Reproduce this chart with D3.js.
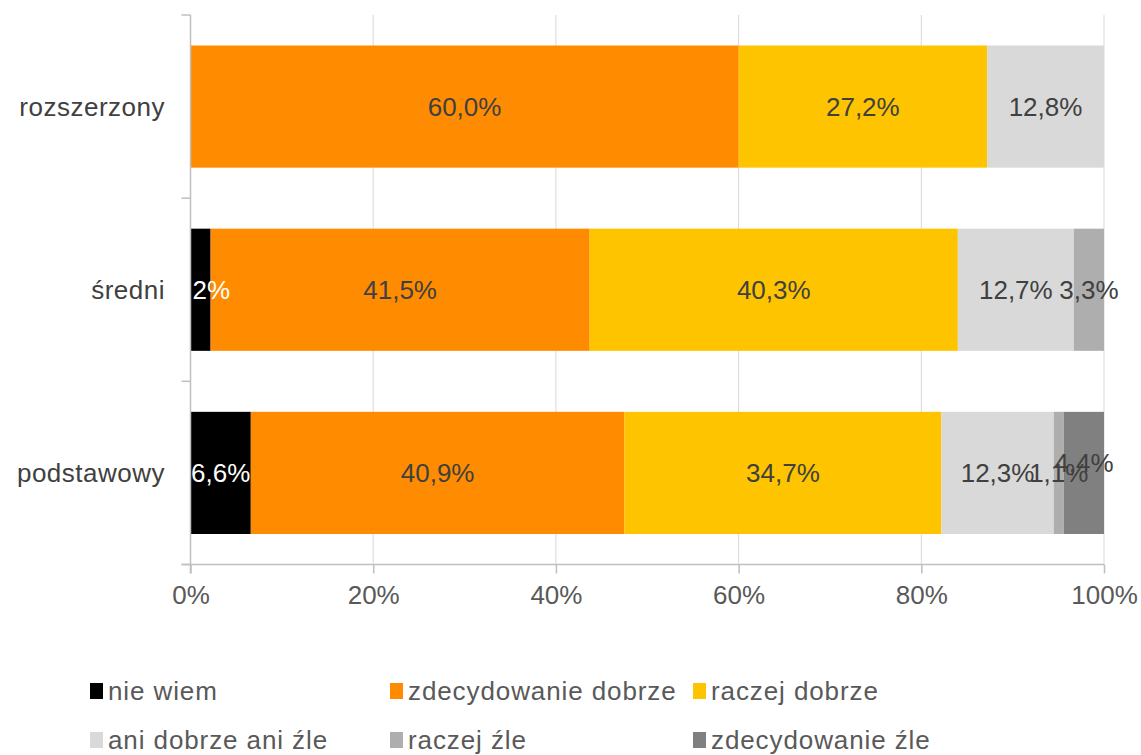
<!DOCTYPE html>
<html>
<head>
<meta charset="utf-8">
<script src="https://cdn.jsdelivr.net/npm/d3@7"></script>
<style>
  body { margin: 0; background: #fff; }
  text { font-family: "Liberation Sans", Arial, sans-serif; }
</style>
</head>
<body>
<svg id="chart" width="1141" height="755"></svg>
<script>
/* stacked 100% bar chart */
const categories = ["rozszerzony", "średni", "podstawowy"];
const seriesNames = ["nie wiem", "zdecydowanie dobrze", "raczej dobrze",
    "ani dobrze ani źle", "raczej źle", "zdecydowanie źle"];
const nieWiem = [0, 2.2, 6.6];
const zdecydowanieDobrze = [60.0, 41.5, 40.9];
const raczejDobrze = [27.2, 40.3, 34.7];
const aniDobrzeAniZle = [12.8, 12.7, 12.3];
const raczejZle = [0, 3.3, 1.1];
const zdecydowanieZle = [0, 0, 4.4];
const tickValues = [0, 20, 40, 60, 80, 100];

const seriesValues = [nieWiem, zdecydowanieDobrze, raczejDobrze,
    aniDobrzeAniZle, raczejZle, zdecydowanieZle];
const colors = ["#000000", "#ff8c00", "#ffc400", "#d9d9d9", "#aeaeae", "#808080"];
const labelColors = ["#ffffff", "#404040", "#404040", "#404040", "#404040", "#404040"];

const svg = d3.select("svg#chart");
const plotLeft = 190.5, plotRight = 1104, plotTop = 15, plotBottom = 564.5;

// rows for d3.stack
const rows = categories.map((c, i) => {
    let row = { category: c };
    seriesNames.forEach((s, j) => (row[s] = seriesValues[j][i]));
    return row;
});
const stacked = d3.stack().keys(seriesNames)(rows);

const x = d3.scaleLinear().domain([0, 100]).range([plotLeft, plotRight]);
const y = d3.scaleBand().domain(categories).range([plotTop, plotBottom]).paddingInner(0.333).paddingOuter(0.1665);

// gridlines
svg.append("g")
    .selectAll("line")
    .data(tickValues.slice(1))
    .join("line")
    .attr("x1", (d) => x(d))
    .attr("x2", (d) => x(d))
    .attr("y1", plotTop)
    .attr("y2", plotBottom)
    .attr("stroke", "#d9d9d9")
    .attr("stroke-width", 1);

// bars
let barArea = svg.append("g");
stacked.forEach((layer, j) => {
    barArea
        .selectAll("rect.s" + j)
        .data(layer)
        .join("rect")
        .attr("class", "s" + j)
        .attr("x", (d) => x(d[0]))
        .attr("width", (d) => x(d[1]) - x(d[0]))
        .attr("y", (d) => y(d.data.category))
        .attr("height", y.bandwidth())
        .attr("fill", colors[j]);
});

// data labels (clipped to plot area)
svg.append("clipPath")
    .attr("id", "plotClip")
    .append("rect")
    .attr("x", plotLeft)
    .attr("y", 0)
    .attr("width", 1141 - plotLeft)
    .attr("height", plotBottom);
let labelArea = svg.append("g").attr("clip-path", "url(#plotClip)");
const fmt = (v) => v.toFixed(1).replace(".", ",") + "%";
stacked.forEach((layer, j) => {
    labelArea
        .selectAll("text.l" + j)
        .data(layer.filter((d) => d[1] - d[0] > 0))
        .join("text")
        .attr("class", "l" + j)
        .attr("x", (d) => x((d[0] + d[1]) / 2))
        .attr("y", (d) => y(d.data.category) + y.bandwidth() / 2 + (j === 5 ? -10 : 0))
        .attr("dy", "0.35em")
        .attr("text-anchor", "middle")
        .attr("fill", labelColors[j])
        .style("font-size", "26px")
        .text((d) => fmt(d[1] - d[0]));
});

// y axis line and category ticks
const axisColor = "#bfbfbf";
svg.append("line")
    .attr("x1", plotLeft).attr("x2", plotLeft)
    .attr("y1", plotTop).attr("y2", plotBottom + 9)
    .attr("stroke", axisColor).attr("stroke-width", 1.5);
const step = (plotBottom - plotTop) / categories.length;
svg.append("g")
    .selectAll("line")
    .data(d3.range(categories.length + 1))
    .join("line")
    .attr("x1", plotLeft - 9).attr("x2", plotLeft)
    .attr("y1", (d) => plotTop + d * step)
    .attr("y2", (d) => plotTop + d * step)
    .attr("stroke", axisColor).attr("stroke-width", 1.5);

// x axis
const xAxis = svg.append("g")
    .attr("transform", `translate(0, ${plotBottom})`)
    .call(d3.axisBottom(x).tickValues(tickValues).tickSize(9).tickPadding(12).tickFormat((d) => d + "%"));
xAxis.select(".domain").remove();
xAxis.append("line")
    .attr("x1", plotLeft - 9).attr("x2", plotRight)
    .attr("stroke", axisColor).attr("stroke-width", 1.5);
xAxis.selectAll(".tick line").attr("stroke", axisColor).attr("stroke-width", 1.5);
xAxis.selectAll(".tick text")
    .attr("fill", "#595959")
    .style("font-size", "26px")
    .style("font-family", "'Liberation Sans', Arial, sans-serif");

// category labels
svg.append("g")
    .selectAll("text")
    .data(categories)
    .join("text")
    .attr("x", 165)
    .attr("y", (d) => y(d) + y.bandwidth() / 2)
    .attr("dy", "0.35em")
    .attr("text-anchor", "end")
    .attr("fill", "#404040")
    .style("font-size", "26px")
    .style("letter-spacing", "0.5px")
    .text((d) => d);

// legend
const legendX = [90, 390, 693];
const legendY = [691, 740];
let legend = svg.append("g");
seriesNames.forEach((name, i) => {
    let lx = legendX[i % 3];
    let ly = legendY[Math.floor(i / 3)];
    legend.append("rect")
        .attr("x", lx)
        .attr("y", ly - 8)
        .attr("width", 13)
        .attr("height", 16)
        .attr("fill", colors[i]);
    legend.append("text")
        .attr("x", lx + 18)
        .attr("y", ly)
        .attr("dy", "0.35em")
        .attr("fill", "#595959")
        .style("font-size", "26px")
        .style("letter-spacing", "0.9px")
        .text(name);
});
</script>
</body>
</html>
